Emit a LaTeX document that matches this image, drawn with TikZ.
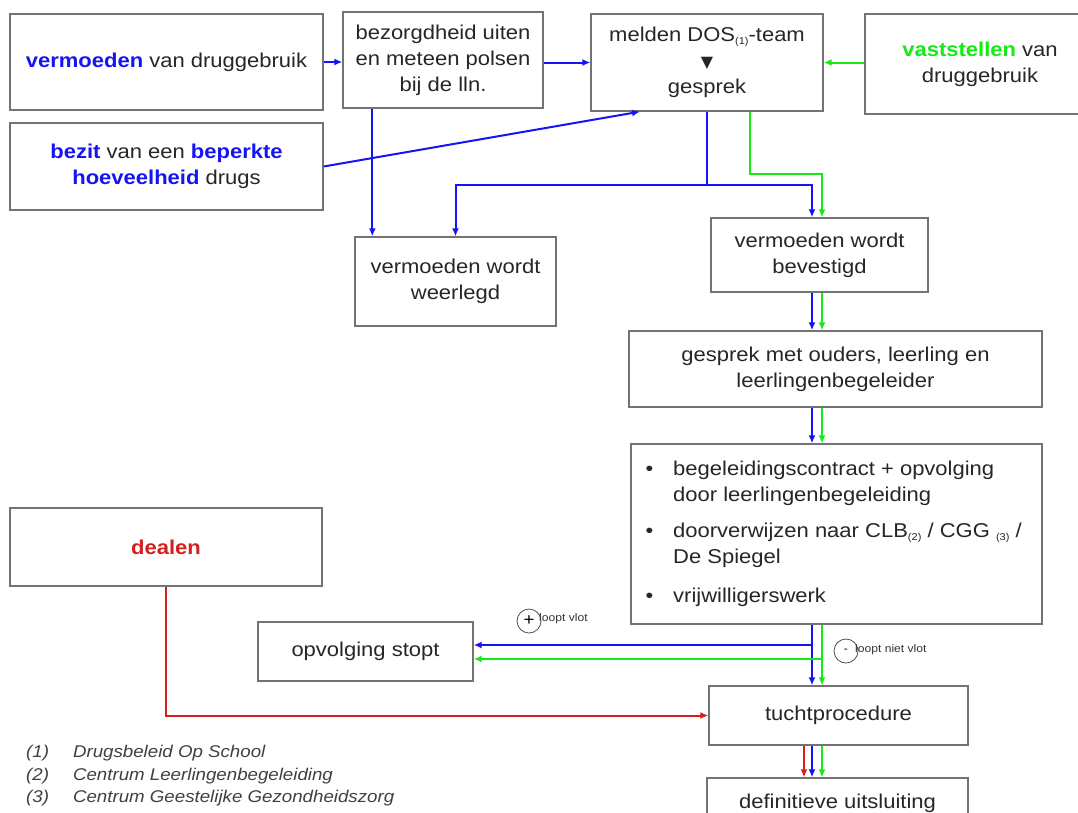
\documentclass[tikz,border=0pt]{standalone}
\usepackage{fontspec}
\setmainfont{Liberation Sans}[FakeStretch=1.1]
\newfontfamily\symfont{DejaVu Sans}
\usetikzlibrary{calc,arrows.meta}
\definecolor{dblue}{RGB}{20,20,245}
\definecolor{dgreen}{RGB}{20,235,20}
\definecolor{dred}{RGB}{215,30,30}
\newcommand{\kwblue}[1]{\textcolor{dblue}{\bfseries #1}}
\newcommand{\kwgreen}[1]{\textcolor{dgreen}{\bfseries #1}}
\newcommand{\kwred}[1]{\textcolor{dred}{\bfseries #1}}
\newcommand{\fnref}[1]{\raisebox{-3pt}{\fontsize{10}{10}\selectfont(#1)}}

\begin{document}
\begin{tikzpicture}[x=1pt,y=-1pt,
  box/.style={draw=black!55,line width=1.3pt,align=center,inner sep=0pt,
    text=black!85,font=\fontsize{20}{26}\selectfont},
  bflow/.style={dblue,line width=2pt,-{Latex[length=8pt,width=7pt]}},
  gflow/.style={dgreen,line width=2pt,-{Latex[length=8pt,width=7pt]}},
  rflow/.style={dred,line width=2pt,-{Latex[length=8pt,width=7pt]}},
  ring/.style={draw=black!70,circle,line width=0.8pt,minimum size=24pt,inner sep=0pt}]
\useasboundingbox (0,0) rectangle (1078,812);

% boxes
\node[box,minimum width=313,minimum height=96] (verm) at (166.5,62) {\kwblue{vermoeden} van druggebruik};
\node[box,minimum width=200,minimum height=96] (bezorgd) at (443,60) {bezorgdheid uiten\\en meteen polsen\\bij de lln.};
\node[box,minimum width=232,minimum height=97] (melden) at (707,62.5) {melden DOS\fnref{1}-team\\{\symfont\fontsize{16}{20}\selectfont ▼}\\gesprek};
\node[box,minimum width=230,minimum height=100] (vastst) at (980,64) {\kwgreen{vaststellen} van\\druggebruik};
\node[box,minimum width=313,minimum height=87] (bezit) at (166.5,166.5) {\kwblue{bezit} van een \kwblue{beperkte}\\\kwblue{hoeveelheid} drugs};
\node[box,minimum width=201,minimum height=89] (weerlegd) at (455.5,281.5) {vermoeden wordt\\weerlegd};
\node[box,minimum width=217,minimum height=74] (bevest) at (819.5,255) {vermoeden wordt\\bevestigd};
\node[box,minimum width=413,minimum height=76] (gesprek) at (835.5,369) {gesprek met ouders, leerling en\\leerlingenbegeleider};
\node[box,minimum width=411,minimum height=180] (lijst) at (836.5,534) {%
  \makebox[382pt][l]{\begin{tabular}{@{}l@{\hspace{20pt}}l@{}}
  \textbullet & begeleidingscontract + opvolging\\
              & door leerlingenbegeleiding\\[10pt]
  \textbullet & doorverwijzen naar CLB\fnref{2} / CGG \fnref{3} /\\
              & De Spiegel\\[13pt]
  \textbullet & vrijwilligerswerk
  \end{tabular}}};
\node[box,minimum width=312,minimum height=78] (dealen) at (166,547) {\kwred{dealen}};
\node[box,minimum width=215,minimum height=59] (opvolg) at (365.5,651.5) {opvolging stopt};
\node[box,minimum width=259,minimum height=59] (tucht) at (838.5,715.5) {tuchtprocedure};
\node[box,minimum width=261,minimum height=50] (def) at (837.5,803) {definitieve uitsluiting};

% keuzes
\node[ring,font=\fontsize{17}{17}\selectfont] (plus) at (529,621) {+};
\node[anchor=west,inner sep=0pt,font=\fontsize{11}{13}\selectfont,text=black!80] (vlot) at (539,619) {loopt vlot};
\node[ring,font=\fontsize{11}{11}\selectfont] (min) at (846,651) {-};
\node[anchor=west,inner sep=0pt,font=\fontsize{11}{13}\selectfont,text=black!80] (nietvlot) at (855,650) {loopt niet vlot};

% voetnoten
\node[anchor=north west,inner sep=0pt,text=black!75,font=\fontsize{17}{22.5}\selectfont\itshape] (noten) at (26,742) {%
  \begin{tabular}{@{}l@{\hspace{24pt}}l@{}}
  (1) & Drugsbeleid Op School\\
  (2) & Centrum Leerlingenbegeleiding\\
  (3) & Centrum Geestelijke Gezondheidszorg
  \end{tabular}};

% lanes
\coordinate (bl) at (812,0);
\coordinate (gl) at (822,0);
\coordinate (rl) at (804,0);

% top row
\draw[bflow] (verm.east) -- (verm.east -| bezorgd.west);
\draw[bflow] (bezorgd.east |- melden.west) -- (melden.west);
\draw[gflow] (vastst.west |- melden.east) -- (melden.east);
\draw[bflow] (bezit.east) -- ([xshift=-67pt]melden.south);
\coordinate (bz) at ([xshift=30pt]bezorgd.south west);
\draw[bflow] (bz) -- (bz |- weerlegd.north);

% from gesprek
\coordinate (mb) at ($(melden.south)+(0,73)$);
\coordinate (mg) at ($(melden.south)+(43,62)$);
\draw[dblue,line width=2pt] (melden.south) -- (mb);
\draw[bflow] (mb) -| (weerlegd.north);
\draw[bflow] (mb) -| (bl |- bevest.north);
\draw[gflow] (mg |- melden.south) -- (mg) -| (gl |- bevest.north);

% right column
\draw[bflow] (bl |- bevest.south) -- (bl |- gesprek.north);
\draw[gflow] (gl |- bevest.south) -- (gl |- gesprek.north);
\draw[bflow] (bl |- gesprek.south) -- (bl |- lijst.north);
\draw[gflow] (gl |- gesprek.south) -- (gl |- lijst.north);
\draw[bflow] (bl |- lijst.south) -- (bl |- tucht.north);
\draw[gflow] (gl |- lijst.south) -- (gl |- tucht.north);
\coordinate (ob) at ([yshift=6.5pt]opvolg.east);
\coordinate (og) at ([yshift=-7.5pt]opvolg.east);
\draw[bflow] (bl |- ob) -- (ob);
\draw[gflow] (gl |- og) -- (og);

% dealen
\draw[rflow] (dealen.south) |- (tucht.west);

% to the end
\draw[rflow] (rl |- tucht.south) -- (rl |- def.north);
\draw[bflow] (bl |- tucht.south) -- (bl |- def.north);
\draw[gflow] (gl |- tucht.south) -- (gl |- def.north);
\end{tikzpicture}
\end{document}
